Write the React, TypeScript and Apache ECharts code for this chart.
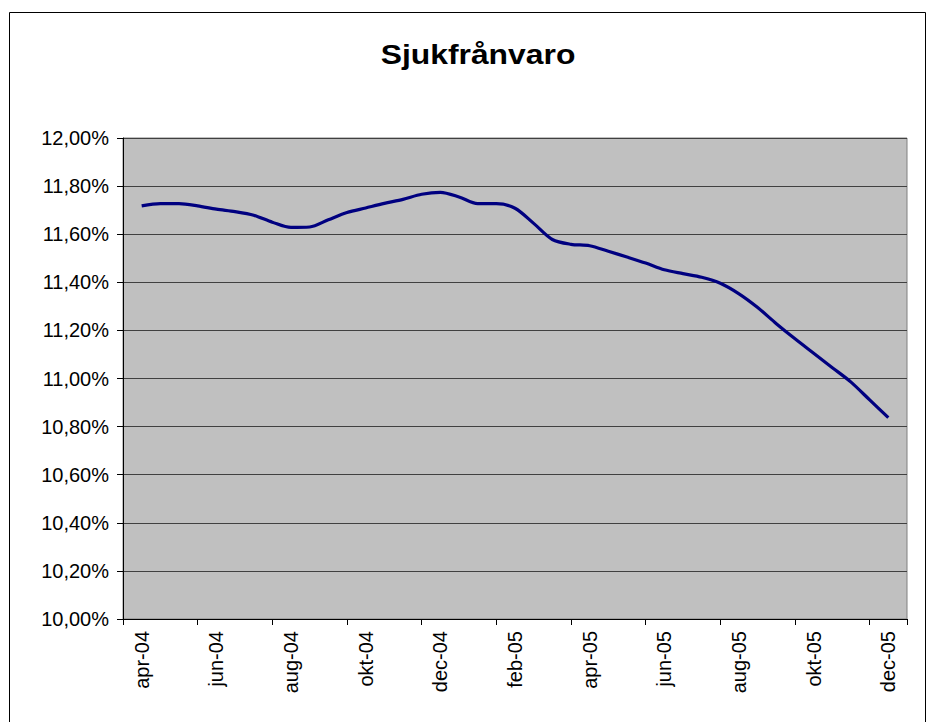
import React, { useEffect, useRef } from "react";
import * as echarts from "echarts";

const title = "Sjukfrånvaro";
const months = [
  "apr-04", "maj-04", "jun-04", "jul-04", "aug-04", "sep-04", "okt-04", "nov-04", "dec-04",
  "jan-05", "feb-05", "mar-05", "apr-05", "maj-05", "jun-05", "jul-05", "aug-05", "sep-05",
  "okt-05", "nov-05", "dec-05",
];
// position of each observation measured in months from the start of apr-04
const positions = [
  0.5, 1.0, 1.5, 2.0, 2.5, 3.0, 3.5, 4.0, 4.5, 5.0, 5.5, 6.0, 6.5, 7.0, 7.5, 8.0, 8.5, 9.0, 9.5, 10.0,
  10.5, 11.0, 11.5, 12.0, 12.5, 13.0, 13.5, 14.0, 14.5, 15.0, 15.5, 16.0, 16.5, 17.0, 17.5, 18.0, 18.5,
  19.0, 19.5, 20.0, 20.5,
];
const values = [
  11.718, 11.727, 11.727, 11.718, 11.704, 11.694, 11.679, 11.65, 11.628, 11.63, 11.66, 11.69, 11.709,
  11.728, 11.745, 11.766, 11.774, 11.755, 11.727, 11.727, 11.708, 11.645, 11.578, 11.558, 11.552,
  11.529, 11.505, 11.48, 11.452, 11.436, 11.421, 11.396, 11.352, 11.295, 11.228, 11.165, 11.105,
  11.045, 10.985, 10.911, 10.837,
];
const yMin = 10;
const yMax = 12;
const yStep = 0.2;

const FONT = "'Liberation Sans', Arial, sans-serif";

export default function App() {
  const ref = useRef<HTMLDivElement>(null);
  useEffect(() => {
    if (!ref.current) return;
    const chart = echarts.init(ref.current, undefined, { renderer: "svg" });
    chart.setOption({
      animation: false,
      backgroundColor: "#ffffff",
      textStyle: { fontFamily: FONT },
      graphic: [
        {
          type: "rect",
          shape: { x: 9.5, y: 12.5, width: 916, height: 730 },
          style: { fill: "none", stroke: "#000000", lineWidth: 1 },
          silent: true,
        },
        {
          type: "text",
          x: 478,
          y: 54,
          scaleX: 1.18,
          style: {
            text: title,
            font: `bold 27px ${FONT}`,
            fill: "#000000",
            textAlign: "center",
            textVerticalAlign: "middle",
          },
        },
      ],
      grid: {
        left: 123,
        top: 138,
        right: 23,
        bottom: 103,
        show: true,
        backgroundColor: "#C0C0C0",
        borderColor: "#808080",
        borderWidth: 1,
      },
      xAxis: [
        {
          type: "category",
          data: months,
          boundaryGap: true,
          axisLine: { show: true, lineStyle: { color: "#000000", width: 1 } },
          axisTick: { show: true, interval: 1, length: 6, lineStyle: { color: "#000000" } },
          axisLabel: {
            interval: 1,
            rotate: 90,
            margin: 12,
            fontSize: 20,
            color: "#000000",
            fontFamily: FONT,
          },
          splitLine: { show: false },
        },
        {
          type: "value",
          min: 0,
          max: months.length,
          show: false,
        },
      ],
      yAxis: {
        type: "value",
        min: yMin,
        max: yMax,
        interval: yStep,
        axisLine: { show: true, lineStyle: { color: "#000000", width: 1 } },
        axisTick: { show: true, length: 6, lineStyle: { color: "#000000" } },
        axisLabel: {
          margin: 14,
          fontSize: 20,
          color: "#000000",
          fontFamily: FONT,
          formatter: (v: number) => v.toFixed(2).replace(".", ",") + "%",
        },
        splitLine: { show: true, lineStyle: { color: "#404040", width: 1 } },
      },
      series: [
        {
          type: "line",
          xAxisIndex: 1,
          data: positions.map((p, i) => [p, values[i]]),
          showSymbol: false,
          smooth: 0.3,
          lineStyle: { color: "#000080", width: 3.2 },
        },
      ],
    });
    return () => chart.dispose();
  }, []);
  return (
    <div
      ref={ref}
      style={{ position: "absolute", left: 0, top: 0, width: 930, height: 722 }}
    />
  );
}
